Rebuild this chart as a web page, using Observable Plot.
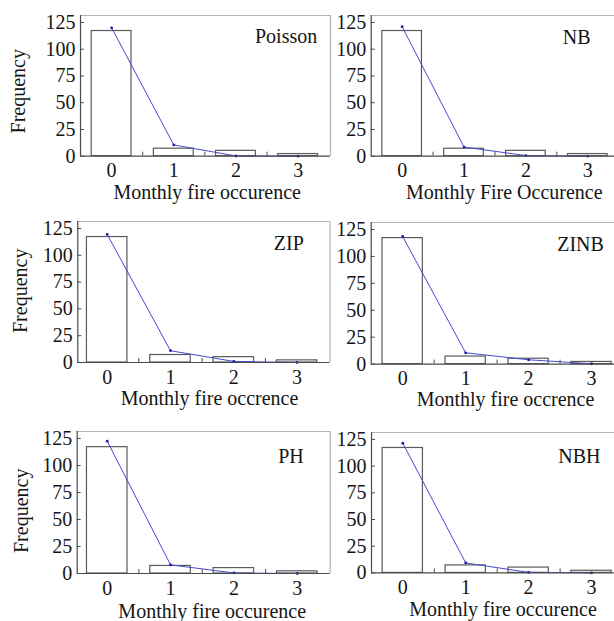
<!DOCTYPE html>
<html><head><meta charset="utf-8">
<script src="https://cdn.jsdelivr.net/npm/d3@7"></script>
<script src="https://cdn.jsdelivr.net/npm/@observablehq/plot@0.6"></script>
<style>
html,body{margin:0;padding:0;background:#fff;overflow:hidden;}
#chart{position:relative;width:614px;height:621px;overflow:hidden;background:#fff;}
#chart .panel{position:absolute;}
#chart svg{overflow:visible;max-width:none !important;display:block;}
</style></head><body><div id="chart"></div>
<script>
// ---- data ----
const categories = [0, 1, 2, 3];
const observed = [117, 7, 5, 2];
const modelNames = ["Poisson", "NB", "ZIP", "ZINB", "PH", "NBH"];
const poisson = [120, 10.5, 0.2, 0];
const nb = [121, 8.5, 0.6, 0];
const zip = [119.5, 11, 1, 0];
const zinb = [118.5, 10.5, 4, 0.3];
const ph = [122.5, 8, 0.5, 0];
const nbh = [121.5, 9.3, 0.5, 0];
const fitted = [poisson, nb, zip, zinb, ph, nbh];
const xAxisLabels = ["Monthly fire occurence", "Monthly Fire Occurence", "Monthly fire occrence", "Monthly fire occrence", "Monthly fire occurence", "Monthly fire occurence"];
const yAxisLabel = "Frequency";
const yTicks = [0, 25, 50, 75, 100, 125];
const xMinorTicks = [0.5, 1.5, 2.5];

// ---- layout (page pixel geometry) ----
const layout = [
  {svgLeft: 0,   svgWidth: 345, frame: [80, 330, 15, 155.7],      xDomain: [-0.5, 3.52],   nameAt: [316.7, 43],   xLabelAt: [206.7, 199],  yLabelAt: [18, 90.8], rightEdge: true},
  {svgLeft: 325, svgWidth: 300, frame: [370.7, 619.5, 15, 155.7], xDomain: [-0.5, 3.52],   nameAt: [590, 43.3],   xLabelAt: [503.8, 199]},
  {svgLeft: 0,   svgWidth: 345, frame: [77.3, 329.5, 220.7, 361.7], xDomain: [-0.464, 3.52], nameAt: [303.3, 249.3], xLabelAt: [209, 404],   yLabelAt: [19.7, 290], rightEdge: true},
  {svgLeft: 325, svgWidth: 300, frame: [370.7, 620, 221.7, 363.3], xDomain: [-0.5, 3.46],  nameAt: [603.3, 250],  xLabelAt: [505, 405.5]},
  {svgLeft: 0,   svgWidth: 345, frame: [76.7, 329.7, 430.7, 572.7], xDomain: [-0.474, 3.52], nameAt: [303.3, 461.7], xLabelAt: [211.7, 617], yLabelAt: [21.3, 510], rightEdge: true},
  {svgLeft: 325, svgWidth: 300, frame: [371, 620, 432.3, 572.7],  xDomain: [-0.497, 3.46], nameAt: [600, 463.3],  xLabelAt: [502.5, 616]}
];
const yDomain = [0, 131.5];
const axisColor = "#4a4a4a";
const frameColor = "#b4b4b4";
const barColor = "#5a5a5a";
const lineColor = "#4848d4";
const dotColor = "#1c1ca0";
const textColor = "#151515";
const font = "'Liberation Serif', 'Times New Roman', serif";

const chart = document.getElementById("chart");
const barHalf = 0.32;

layout.forEach((L, i) => {
  const [fl, fr, ft, fb] = L.frame;
  const svgTop = ft - 12;
  const svgHeight = fb - svgTop + 52;
  const mL = fl - L.svgLeft, mR = L.svgLeft + L.svgWidth - fr, mT = ft - svgTop, mB = svgTop + svgHeight - fb;
  const fw = fr - fl, fh = fb - ft;
  const rows = categories.map((k, j) => ({k, obs: observed[j], fit: fitted[i][j]}));
  const marks = [
    Plot.ruleY([yDomain[1]], {stroke: frameColor, strokeWidth: 1.2}),
    L.rightEdge ? Plot.ruleX([L.xDomain[1]], {stroke: frameColor, strokeWidth: 1.2}) : null,
    Plot.rect(rows, {x1: d => d.k - barHalf, x2: d => d.k + barHalf, y1: 0, y2: "obs", fill: "white", stroke: barColor, strokeWidth: 1.2}),
    Plot.line(rows, {x: "k", y: "fit", stroke: lineColor, strokeWidth: 1}),
    Plot.dot(rows, {x: "k", y: "fit", r: 1.4, fill: dotColor, stroke: null}),
    Plot.ruleX([L.xDomain[0]], {stroke: axisColor, strokeWidth: 1.2}),
    Plot.ruleY([0], {stroke: axisColor, strokeWidth: 1.2}),
    Plot.tickX(xMinorTicks, {x: d => d, stroke: axisColor, insetTop: fh - 4}),
    Plot.tickY(yTicks, {y: d => d, stroke: axisColor, insetRight: fw - 4}),
    Plot.axisX(categories, {tickSize: 0, tickPadding: 7, fontSize: 20, label: null, fill: textColor}),
    Plot.axisY(yTicks, {tickSize: 0, tickPadding: 5, fontSize: 20, label: null, fill: textColor}),
    Plot.text([modelNames[i]], {frameAnchor: "top-left", dx: L.nameAt[0] - fl, dy: L.nameAt[1] - ft, textAnchor: "end", lineAnchor: "bottom", fontSize: 20, fill: textColor}),
    Plot.text([xAxisLabels[i]], {frameAnchor: "top-left", dx: L.xLabelAt[0] - fl, dy: L.xLabelAt[1] - ft, textAnchor: "middle", lineAnchor: "bottom", fontSize: 20, fill: textColor})
  ];
  if (L.yLabelAt) {
    marks.push(Plot.text([yAxisLabel], {frameAnchor: "top-left", dx: L.yLabelAt[0] - fl, dy: L.yLabelAt[1] - ft, rotate: -90, textAnchor: "middle", lineAnchor: "middle", fontSize: 20, fill: textColor}));
  }
  const svg = Plot.plot({
    width: L.svgWidth,
    height: svgHeight,
    marginLeft: mL, marginRight: mR, marginTop: mT, marginBottom: mB,
    x: {domain: L.xDomain, axis: null},
    y: {domain: yDomain, axis: null},
    style: {fontFamily: font, fontSize: "20px", background: "transparent", overflow: "visible", maxWidth: "none"},
    marks
  });
  svg.style.width = L.svgWidth + "px";
  svg.style.height = svgHeight + "px";
  const div = document.createElement("div");
  div.className = "panel";
  div.style.left = L.svgLeft + "px";
  div.style.top = svgTop + "px";
  div.style.width = L.svgWidth + "px";
  div.style.height = svgHeight + "px";
  div.appendChild(svg);
  chart.appendChild(div);
});
</script>
</body></html>
